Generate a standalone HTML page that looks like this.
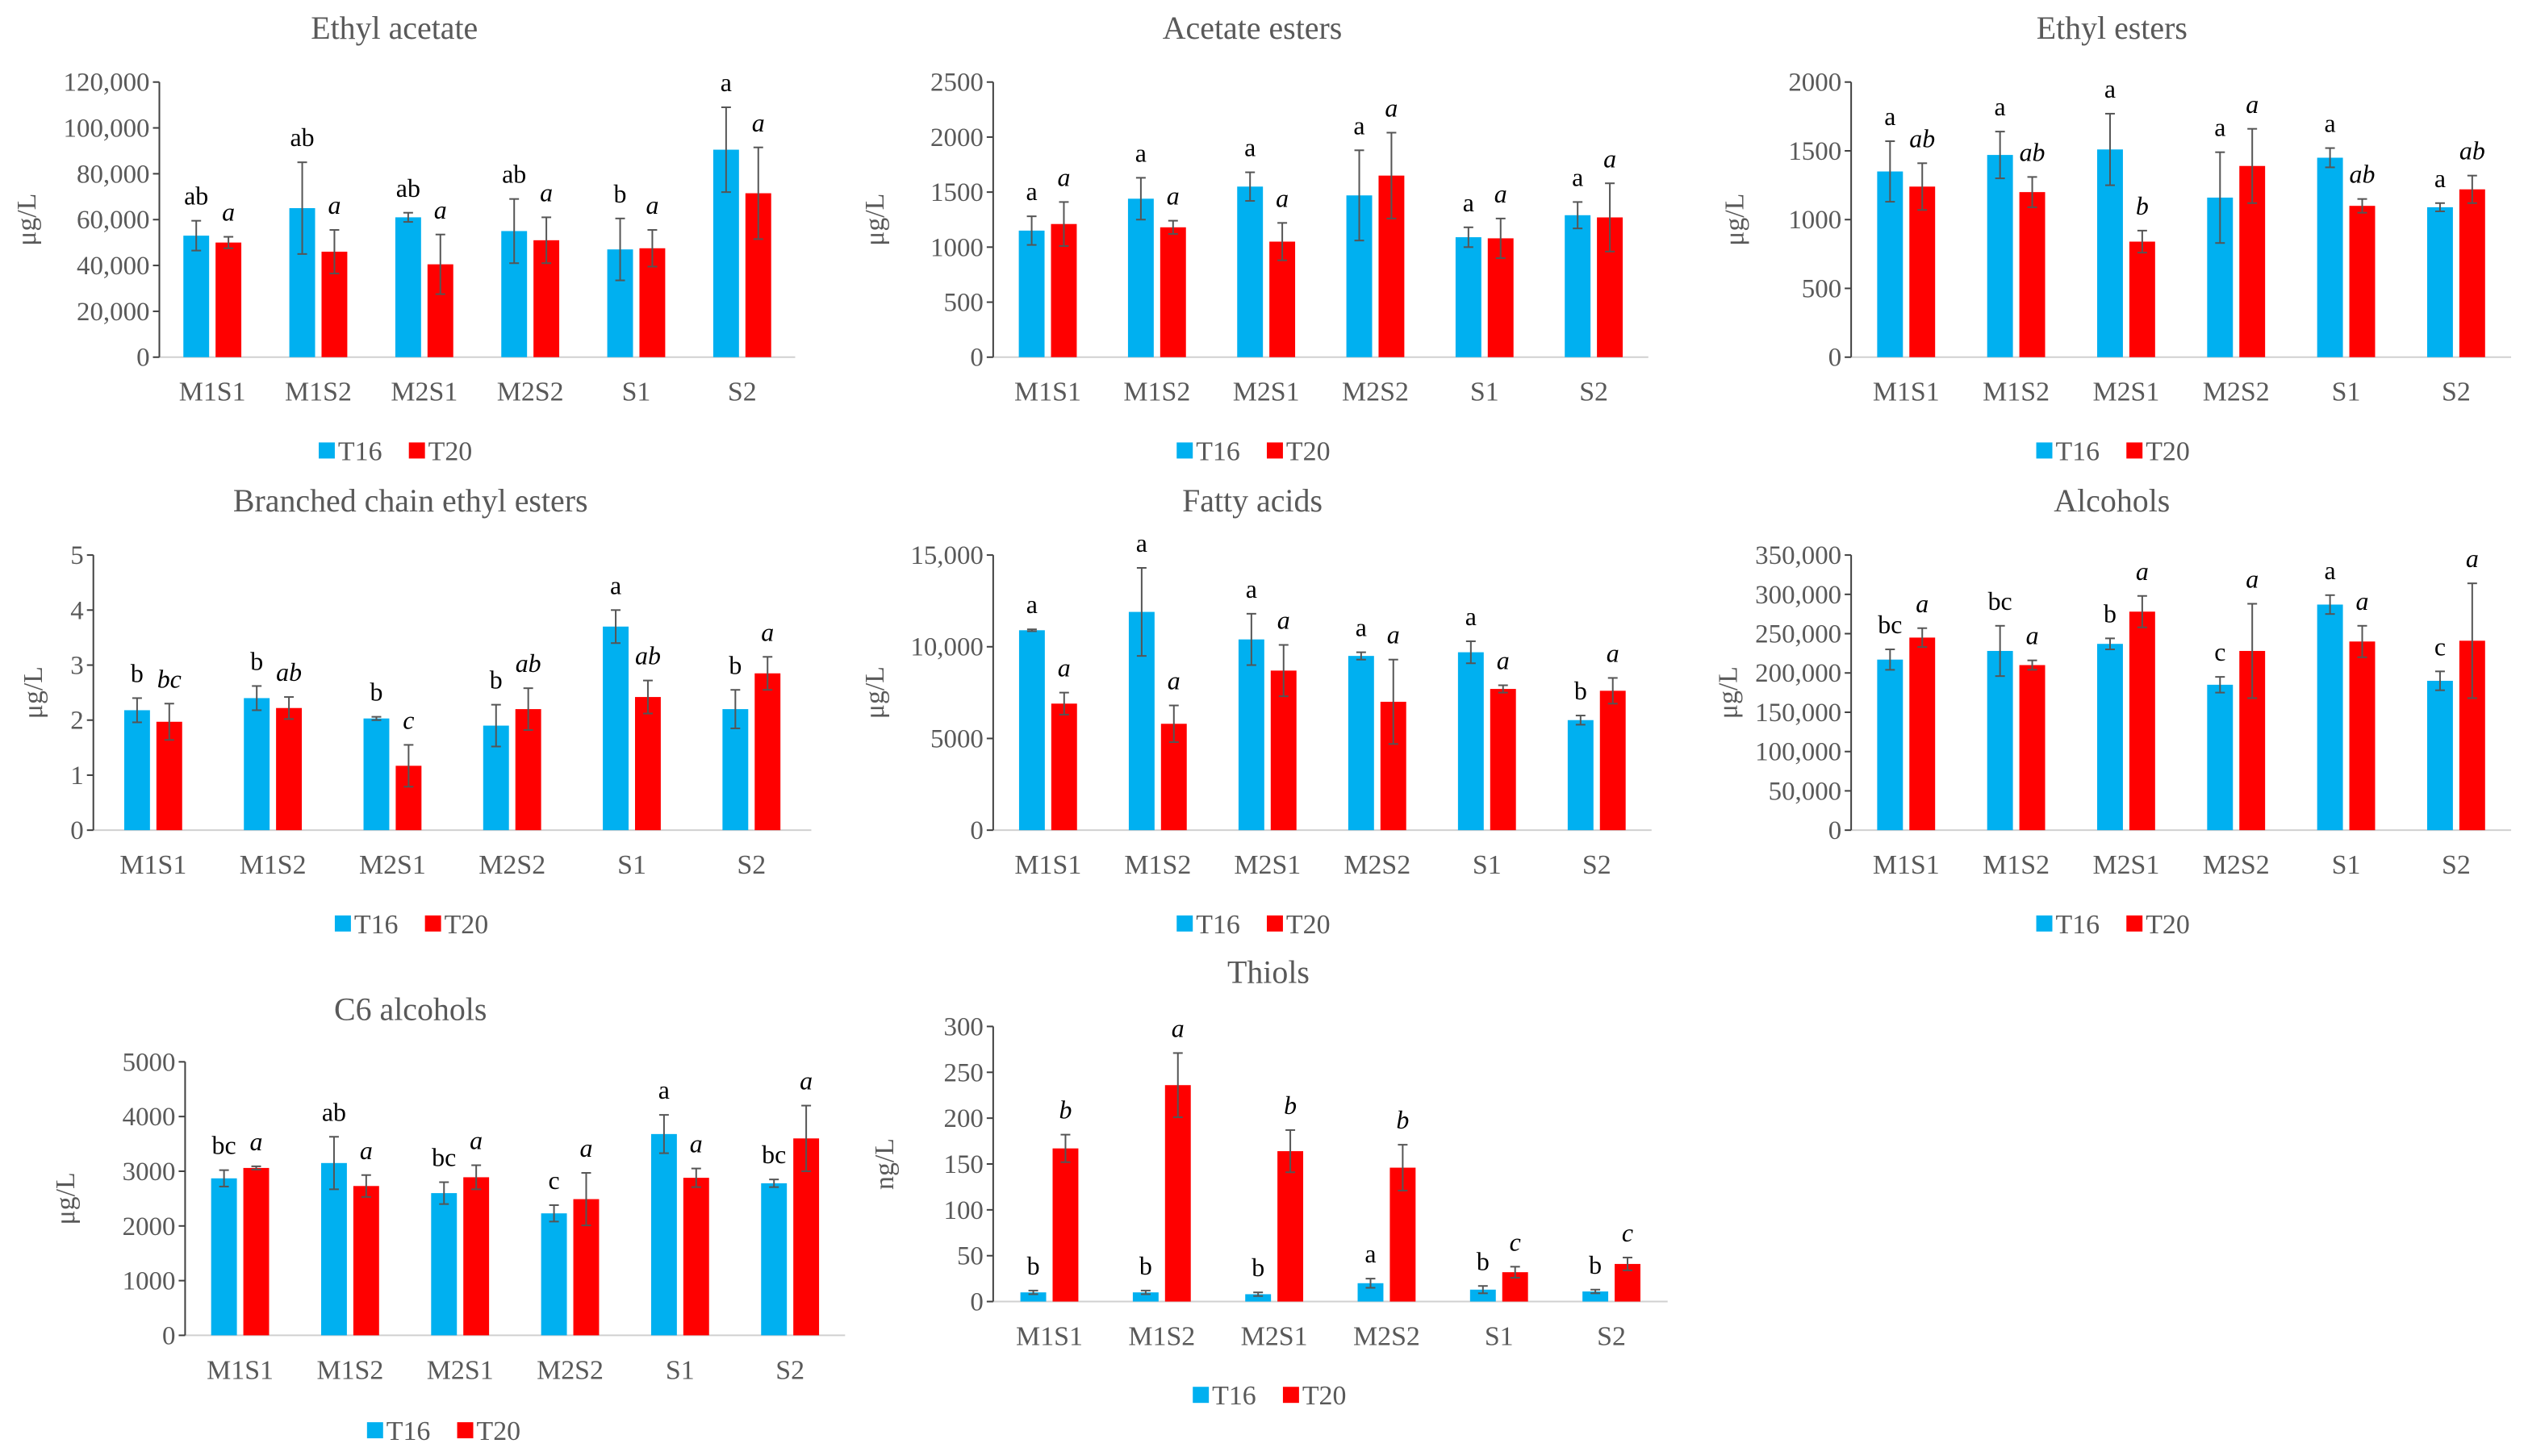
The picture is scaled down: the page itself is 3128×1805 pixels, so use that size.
<!DOCTYPE html>
<html><head><meta charset="utf-8"><style>
html,body{margin:0;padding:0;background:#fff;}
svg{display:block;}
text{font-family:"Liberation Serif",serif;}
</style></head><body>
<svg id="chart" width="3128" height="1805" viewBox="0 0 1568 905" preserveAspectRatio="none" xmlns="http://www.w3.org/2000/svg"></svg>
<script>
const categories = ["M1S1","M1S2","M2S1","M2S2","S1","S2"];
// Ethyl acetate
const eaT16 = [53000,65000,61000,55000,47000,90500];
const eaT16Err = [6500,20000,2000,14000,13500,18500];
const eaT20 = [50000,46000,40500,51000,47500,71500];
const eaT20Err = [2500,9500,13000,10000,8000,20000];
const eaT16Let = ["ab","ab","ab","ab","b","a"];
const eaT20Let = ["a","a","a","a","a","a"];
const eaTicks = ["0","20,000","40,000","60,000","80,000","100,000","120,000"];
// Acetate esters
const acT16 = [1150,1440,1550,1470,1090,1290];
const acT16Err = [130,190,130,410,90,120];
const acT20 = [1210,1180,1050,1650,1080,1270];
const acT20Err = [200,60,170,390,180,310];
const acT16Let = ["a","a","a","a","a","a"];
const acT20Let = ["a","a","a","a","a","a"];
const acTicks = ["0","500","1000","1500","2000","2500"];
// Ethyl esters
const eeT16 = [1350,1470,1510,1160,1450,1090];
const eeT16Err = [220,170,260,330,70,30];
const eeT20 = [1240,1200,840,1390,1100,1220];
const eeT20Err = [170,110,80,270,50,100];
const eeT16Let = ["a","a","a","a","a","a"];
const eeT20Let = ["ab","ab","b","a","ab","ab"];
const eeTicks = ["0","500","1000","1500","2000"];
// Branched chain ethyl esters
const bcT16 = [2.18,2.4,2.03,1.9,3.7,2.2];
const bcT16Err = [0.22,0.22,0.03,0.38,0.3,0.35];
const bcT20 = [1.97,2.22,1.17,2.2,2.42,2.85];
const bcT20Err = [0.33,0.2,0.38,0.38,0.3,0.3];
const bcT16Let = ["b","b","b","b","a","b"];
const bcT20Let = ["bc","ab","c","ab","ab","a"];
const bcTicks = ["0","1","2","3","4","5"];
// Fatty acids
const faT16 = [10900,11900,10400,9500,9700,6000];
const faT16Err = [50,2400,1400,200,600,250];
const faT20 = [6900,5800,8700,7000,7700,7600];
const faT20Err = [600,1000,1400,2300,200,700];
const faT16Let = ["a","a","a","a","a","b"];
const faT20Let = ["a","a","a","a","a","a"];
const faTicks = ["0","5000","10,000","15,000"];
// Alcohols
const alT16 = [217000,228000,237000,185000,287000,190000];
const alT16Err = [13000,32000,7000,10000,12000,12000];
const alT20 = [245000,210000,278000,228000,240000,241000];
const alT20Err = [12000,6000,20000,60000,20000,73000];
const alT16Let = ["bc","bc","b","c","a","c"];
const alT20Let = ["a","a","a","a","a","a"];
const alTicks = ["0","50,000","100,000","150,000","200,000","250,000","300,000","350,000"];
// C6 alcohols
const c6T16 = [2870,3150,2600,2230,3680,2780];
const c6T16Err = [150,480,200,150,350,70];
const c6T20 = [3060,2730,2890,2490,2880,3600];
const c6T20Err = [30,200,220,480,170,600];
const c6T16Let = ["bc","ab","bc","c","a","bc"];
const c6T20Let = ["a","a","a","a","a","a"];
const c6Ticks = ["0","1000","2000","3000","4000","5000"];
// Thiols
const thT16 = [10,10,8,20,13,11];
const thT16Err = [2,2,2,5,4,2];
const thT20 = [167,236,164,146,32,41];
const thT20Err = [15,35,23,25,6,7];
const thT16Let = ["b","b","b","a","b","b"];
const thT20Let = ["b","a","b","b","c","c"];
const thTicks = ["0","50","100","150","200","250","300"];

const svg = document.getElementById('chart');
const NS = "http://www.w3.org/2000/svg";
function mk(tag, attrs, parent){ const e=document.createElementNS(NS,tag); for(const k in attrs) e.setAttribute(k,attrs[k]); (parent||svg).appendChild(e); return e; }

function panel(cfg){
  const g = mk('g',{});
  
  
  const max = cfg.max, x0=cfg.ax, x1=cfg.right, y0=cfg.y0, yt=cfg.ytop;
  const ys = v => y0 - (v/max)*(y0-yt);
  const step = (x1-x0)/categories.length;
  const xs = i => x0 + step*(i+0.5);
  const t = mk('text',{x:cfg.tx,y:cfg.ty,'font-size':20,fill:'#595959','text-anchor':'middle'},g);
  t.textContent = cfg.title;
  
  
  mk('line',{x1:x0,y1:y0,x2:x1,y2:y0,stroke:'#d0d0d0','stroke-width':1},g);
  mk('line',{x1:x0,y1:yt,x2:x0,y2:y0,stroke:'#404040','stroke-width':1},g);
  const n = cfg.ticks.length;
  cfg.ticks.forEach((lab,i)=>{
    const v = max*i/(n-1); const y=ys(v);
    mk('line',{x1:x0-4,y1:y,x2:x0,y2:y,stroke:'#404040','stroke-width':1},g);
    const tt = mk('text',{x:x0-6,y:y+5.5,'font-size':16.5,fill:'#595959','text-anchor':'end'},g);
    tt.textContent = lab;
    
    
  });
  const yl = mk('text',{x:0,y:0,'font-size':17,fill:'#595959','text-anchor':'middle',transform:`translate(${cfg.ylx},${(y0+yt)/2}) rotate(-90)`},g);
  yl.textContent = cfg.unit;
  
  
  const bw=16;
  const series=[[cfg.a,cfg.ae,cfg.al,'#00b0f0',-10,'normal','t16'],[cfg.b,cfg.be,cfg.bl,'#ff0000',10,'italic','t20']];
  categories.forEach((c,i)=>{
    const cx = xs(i);
    const xl = mk('text',{x:cx,y:y0+27,'font-size':17,fill:'#595959','text-anchor':'middle'},g);
    xl.textContent = c;
    
    
    series.forEach(s=>{
      const v=s[0][i], e=s[1][i], bx=cx+s[4];
      const r = mk('rect',{x:bx-bw/2,y:ys(v),width:bw,height:y0-ys(v),fill:s[3]},g);
      
      
      const top=ys(v+e), bot=ys(Math.max(0,v-e));
      mk('line',{x1:bx,y1:top,x2:bx,y2:bot,stroke:'#555','stroke-width':1},g);
      mk('line',{x1:bx-3,y1:top,x2:bx+3,y2:top,stroke:'#555','stroke-width':1},g);
      mk('line',{x1:bx-3,y1:bot,x2:bx+3,y2:bot,stroke:'#555','stroke-width':1},g);
      const lt = mk('text',{x:bx,y:top-10,'font-size':16,fill:'#000','text-anchor':'middle','font-style':s[5]},g);
      lt.textContent = s[2][i];
      
      
    });
  });
  const lg = mk('g',{},g);
  
  
  [['T16','#00b0f0',cfg.lx],['T20','#ff0000',cfg.lx+56]].forEach(L=>{
    mk('rect',{x:L[2],y:cfg.ly-11,width:10,height:10,fill:L[1]},lg);
    const lt = mk('text',{x:L[2]+12,y:cfg.ly,'font-size':17,fill:'#595959'},lg);
    lt.textContent = L[0];
    
    
  });
}
panel({name:'ethyl-acetate',title:'Ethyl acetate',tx:245,ty:24,ax:99,right:494,y0:222,ytop:51,max:120000,ticks:eaTicks,ylx:22,unit:'μg/L',a:eaT16,ae:eaT16Err,b:eaT20,be:eaT20Err,al:eaT16Let,bl:eaT20Let,lx:198,ly:286});
panel({name:'acetate-esters',title:'Acetate esters',tx:778,ty:24,ax:617,right:1024,y0:222,ytop:51,max:2500,ticks:acTicks,ylx:549,unit:'μg/L',a:acT16,ae:acT16Err,b:acT20,be:acT20Err,al:acT16Let,bl:acT20Let,lx:731,ly:286});
panel({name:'ethyl-esters',title:'Ethyl esters',tx:1312,ty:24,ax:1150,right:1560,y0:222,ytop:51,max:2000,ticks:eeTicks,ylx:1083,unit:'μg/L',a:eeT16,ae:eeT16Err,b:eeT20,be:eeT20Err,al:eeT16Let,bl:eeT20Let,lx:1265,ly:286});
panel({name:'branched-chain-ethyl-esters',title:'Branched chain ethyl esters',tx:255,ty:318,ax:58,right:504,y0:516,ytop:345,max:5,ticks:bcTicks,ylx:26,unit:'μg/L',a:bcT16,ae:bcT16Err,b:bcT20,be:bcT20Err,al:bcT16Let,bl:bcT20Let,lx:208,ly:580});
panel({name:'fatty-acids',title:'Fatty acids',tx:778,ty:318,ax:617,right:1026,y0:516,ytop:345,max:15000,ticks:faTicks,ylx:549,unit:'μg/L',a:faT16,ae:faT16Err,b:faT20,be:faT20Err,al:faT16Let,bl:faT20Let,lx:731,ly:580});
panel({name:'alcohols',title:'Alcohols',tx:1312,ty:318,ax:1150,right:1560,y0:516,ytop:345,max:350000,ticks:alTicks,ylx:1079,unit:'μg/L',a:alT16,ae:alT16Err,b:alT20,be:alT20Err,al:alT16Let,bl:alT20Let,lx:1265,ly:580});
panel({name:'c6-alcohols',title:'C6 alcohols',tx:255,ty:634,ax:115,right:525,y0:830,ytop:660,max:5000,ticks:c6Ticks,ylx:46,unit:'μg/L',a:c6T16,ae:c6T16Err,b:c6T20,be:c6T20Err,al:c6T16Let,bl:c6T20Let,lx:228,ly:895});
panel({name:'thiols',title:'Thiols',tx:788,ty:611,ax:617,right:1036,y0:809,ytop:638,max:300,ticks:thTicks,ylx:555,unit:'ng/L',a:thT16,ae:thT16Err,b:thT20,be:thT20Err,al:thT16Let,bl:thT20Let,lx:741,ly:873});
</script>
</body></html>
